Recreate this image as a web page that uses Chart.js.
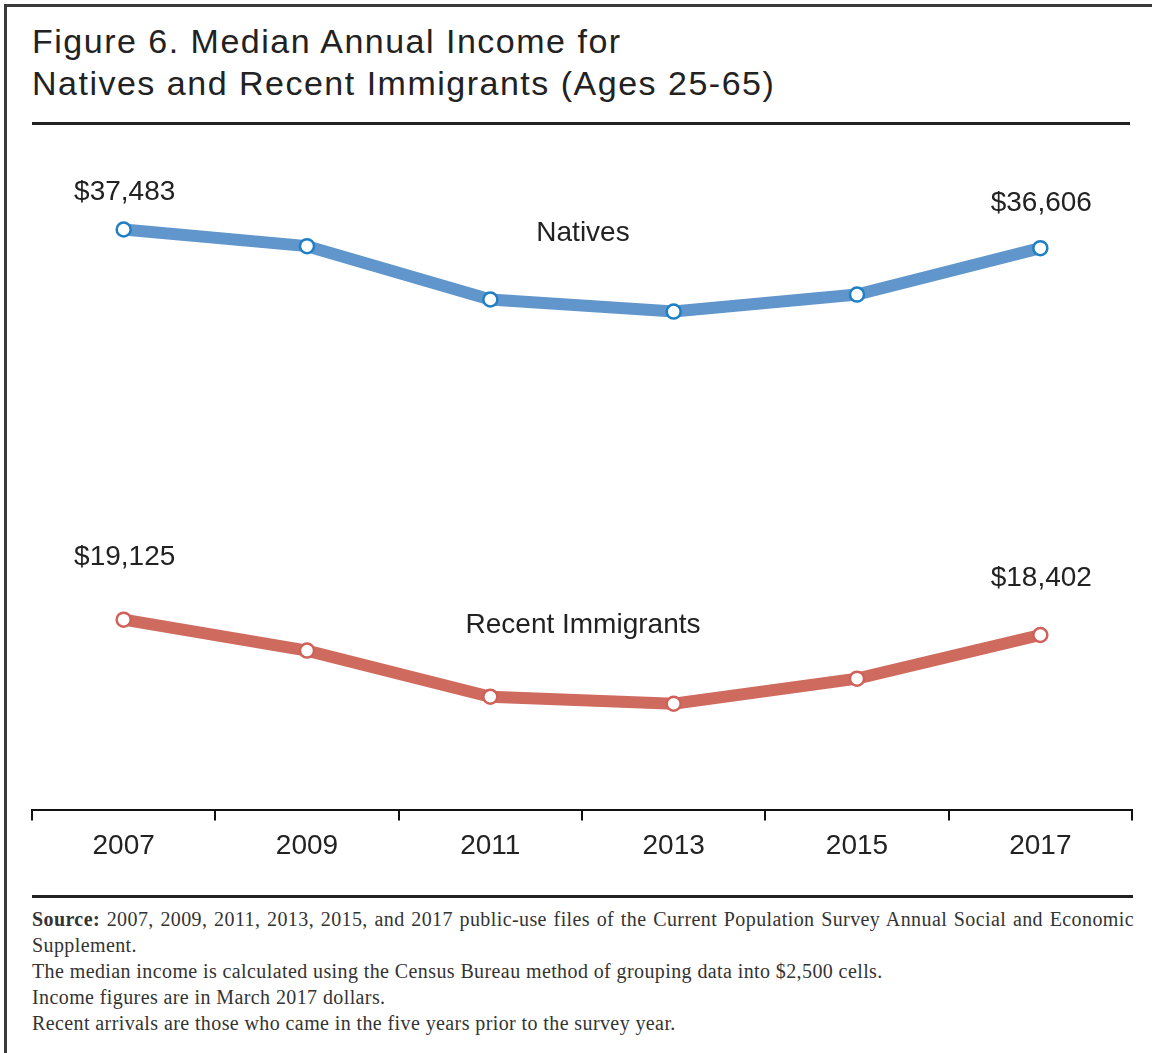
<!DOCTYPE html>
<html>
<head>
<meta charset="utf-8">
<script src="https://cdn.jsdelivr.net/npm/chart.js@4/dist/chart.umd.min.js"></script>
<style>
  html, body { margin: 0; padding: 0; background: #fff; }
  body { width: 1152px; height: 1053px; position: relative; overflow: hidden; }
  .frame {
    position: absolute; left: 4px; top: 4px; width: 1200px; height: 1100px;
    border-left: 3px solid #3a3a3a; border-top: 3px solid #3a3a3a;
  }
  .title {
    position: absolute; left: 32px; top: 20px;
    font-family: "Liberation Sans", Arial, sans-serif; font-size: 34px; line-height: 42px;
    letter-spacing: 1.5px; color: #222;
  }
  .rule { position: absolute; left: 32px; background: #222; }
  .chart-box { position: absolute; left: 0; top: 150px; width: 1152px; height: 722px; }
  .notes {
    position: absolute; left: 32px; top: 906px; width: 1102px;
    font-family: "Liberation Serif", "Times New Roman", serif; font-size: 20px; line-height: 26px;
    letter-spacing: 0.4px; color: #333;
  }
  .notes .just { text-align: justify; text-align-last: justify; }
</style>
</head>
<body>
<div class="frame"></div>
<div class="title">Figure 6. Median Annual Income for<br>Natives and Recent Immigrants (Ages 25-65)</div>
<div class="rule" style="top:122px;width:1098px;height:3px;"></div>
<div class="chart-box"><canvas id="incomeChart"></canvas></div>
<div class="rule" style="top:895px;width:1101px;height:3px;"></div>
<div class="notes">
  <div class="just"><b>Source:</b> 2007, 2009, 2011, 2013, 2015, and 2017 public-use files of the Current Population Survey Annual Social and Economic</div>
  <div>Supplement.</div>
  <div>The median income is calculated using the Census Bureau method of grouping data into $2,500 cells.</div>
  <div>Income figures are in March 2017 dollars.</div>
  <div>Recent arrivals are those who came in the five years prior to the survey year.</div>
</div>

<script>
const years = ["2007", "2009", "2011", "2013", "2015", "2017"];
const natives = [37483, 36700, 34190, 33620, 34420, 36606];
const recentImmigrants = [19125, 17670, 15500, 15170, 16350, 18402];

// writes the dollar value above the first and last point of each line,
// and the series name near the middle of the plot
const lineLabels = {
    id: "lineLabels",
    afterDatasetsDraw(chart, args, opts) {
        const ctx = chart.ctx;
        const xScale = chart.scales.x;
        const yScale = chart.scales.y;
        ctx.save();
        ctx.fillStyle = "#222";
        ctx.font = "28px 'Liberation Sans', Arial, sans-serif";
        ctx.textAlign = "center";
        ctx.textBaseline = "middle";
        chart.data.datasets.forEach(function (ds, i) {
            const meta = chart.getDatasetMeta(i);
            const ends = [0, ds.data.length - 1];
            ends.forEach(function (idx, k) {
                const pt = meta.data[idx];
                const text = "$" + ds.data[idx].toLocaleString("en-US");
                ctx.fillText(text, pt.x + 1, pt.y - ds.labelLift[k]);
            });
            const midX = (xScale.left + xScale.right) / 2 + 1;
            ctx.fillText(ds.label, midX, yScale.getPixelForValue(ds.nameAt));
        });
        ctx.restore();
    }
};

const ctx = document.getElementById("incomeChart").getContext("2d");

const incomeChart = new Chart(ctx, {
    type: "line",
    data: {
        labels: years,
        datasets: [
            {
                label: "Natives",
                data: natives,
                borderColor: "#6096cc",
                borderWidth: 12,
                pointRadius: 7,
                pointBorderWidth: 2.5,
                pointBackgroundColor: "#ffffff",
                pointBorderColor: "#1f7fc4",
                tension: 0,
                labelLift: [37, 45],
                nameAt: 37300,
            },
            {
                label: "Recent Immigrants",
                data: recentImmigrants,
                borderColor: "#cf6a5e",
                borderWidth: 12,
                pointRadius: 7,
                pointBorderWidth: 2.5,
                pointBackgroundColor: "#ffffff",
                pointBorderColor: "#d0605a",
                tension: 0,
                labelLift: [62, 57],
                nameAt: 18870,
            },
        ],
    },
    options: {
        responsive: true,
        maintainAspectRatio: false,
        animation: false,
        layout: {
            padding: { left: 32, right: 20, top: 26, bottom: 0 },
        },
        plugins: {
            legend: { display: false },
            tooltip: { enabled: false },
        },
        scales: {
            x: {
                offset: true,
                grid: {
                    offset: true,
                    drawOnChartArea: false,
                    drawTicks: true,
                    tickLength: 10,
                    color: "#111",
                    lineWidth: 2,
                },
                border: { display: true, color: "#111", width: 2 },
                ticks: {
                    color: "#222",
                    padding: 9,
                    font: { family: "'Liberation Sans', Arial, sans-serif", size: 28 },
                },
            },
            y: {
                display: false,
                min: 10150,
                max: 40000,
            },
        },
    },
    plugins: [lineLabels],
});
</script>
</body>
</html>
